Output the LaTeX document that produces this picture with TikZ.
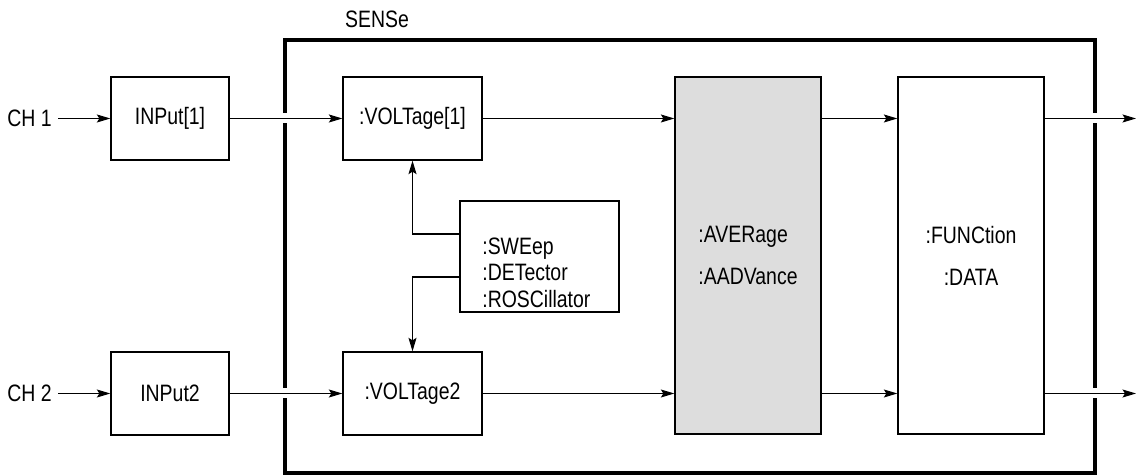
\documentclass[tikz,border=0pt]{standalone}
\usepackage{fontspec}
\setmainfont{Liberation Sans}[FakeStretch=0.82]
\usetikzlibrary{arrows.meta,calc}
\definecolor{avggray}{RGB}{221,221,221}
\tikzset{
	blk/.style={draw=black, line width=0.75pt, minimum width=2.36cm, minimum height=1.66cm},
	tall/.style={draw=black, line width=0.75pt, minimum width=2.92cm, minimum height=7.14cm},
	wire/.style={line width=0.6pt, -{Stealth[length=0.27cm, width=0.16cm, inset=0.05cm]}},
	gap/.style={fill=white}
}

\begin{document}
\begin{tikzpicture}[font=\fontsize{13.5}{15}\selectfont]
			\useasboundingbox (0,0) rectangle (22.72,9.5);
			% SENSe frame
			\node[draw=black, line width=2.3pt,
			minimum width=16.2cm,
			minimum height=8.66cm] (sense) at(13.80,4.37){};
			\node (senselbl) at(7.54,9.12){SENSe};
			% inputs
			\node[anchor=east, inner sep=0.12cm] (ch1) at(1.16,7.13){CH 1};
			\node[anchor=east, inner sep=0.12cm] (ch2) at(1.16,1.63){CH 2};
			\node[blk] (in1) at(3.40,7.13){INPut[1]};
			\node[blk] (in2) at(3.40,1.63){INPut2};
			\node[blk, minimum width=2.78cm] (volt1) at(8.25,7.13){:VOLTage[1]};
			\node[blk, minimum width=2.78cm] (volt2) at(8.25,1.63){:VOLTage2};
			\node[blk,
			minimum width=3.18cm,
			minimum height=2.22cm] (sweep) at(10.79,4.37){};
			\node[anchor=west, inner sep=0pt, align=left] (sweeptxt) at(9.64,4.05){:SWEep\\:DETector\\:ROSCillator};
			\node[tall, fill=avggray, align=left] (avg) at(14.96,4.39){:AVERage\\[9pt]:AADVance};
			\node[tall, align=center] (func) at(19.42,4.39){:FUNCtion\\[9pt]:DATA};
			\coordinate (out1) at(22.72,7.13);
			\coordinate (out2) at(22.72,1.63);
			% breaks in the frame
			\fill[gap] ($(sense.west |- in1.east)+(-0.08,-0.1)$) rectangle +(0.16,0.2);
			\fill[gap] ($(sense.west |- in2.east)+(-0.08,-0.1)$) rectangle +(0.16,0.2);
			\fill[gap] ($(sense.east |- out1)+(-0.08,-0.1)$) rectangle +(0.16,0.2);
			\fill[gap] ($(sense.east |- out2)+(-0.08,-0.1)$) rectangle +(0.16,0.2);
			% signal lines
			\draw[wire] (ch1.east) -- (in1.west);
			\draw[wire] (ch2.east) -- (in2.west);
			\draw[wire] (in1.east) -- (volt1.west);
			\draw[wire] (in2.east) -- (volt2.west);
			\draw[wire] (volt1.east) -- (volt1.east -| avg.west);
			\draw[wire] (volt2.east) -- (volt2.east -| avg.west);
			\draw[wire] (avg.east |- volt1.east) -- (func.west |- volt1.east);
			\draw[wire] (avg.east |- volt2.east) -- (func.west |- volt2.east);
			\draw[wire] (func.east |- out1) -- (out1);
			\draw[wire] (func.east |- out2) -- (out2);
			\draw[wire] ([yshift=0.45cm]sweep.west) -| (volt1.south);
			\draw[wire] ([yshift=-0.41cm]sweep.west) -| (volt2.north);
		\end{tikzpicture}
\end{document}
